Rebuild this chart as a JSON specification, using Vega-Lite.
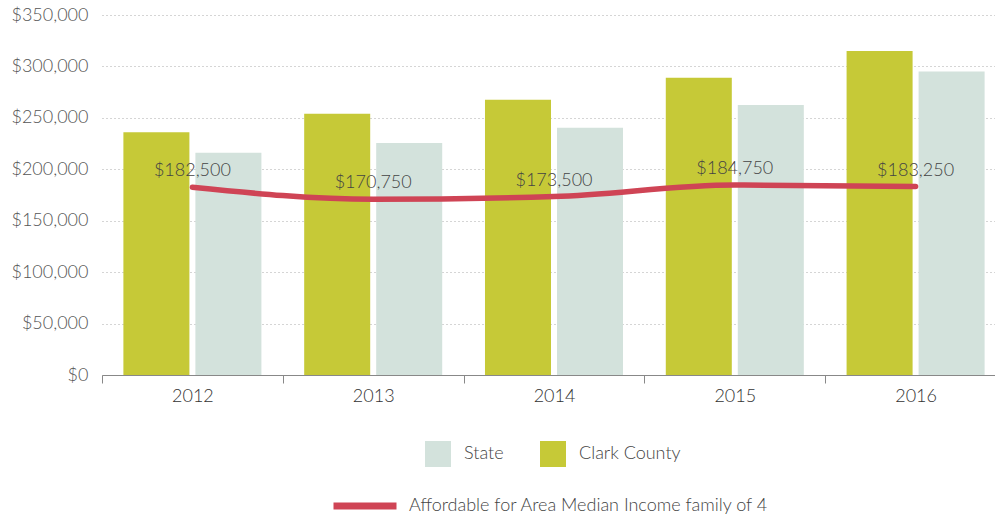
{
  "$schema": "https://vega.github.io/schema/vega-lite/v6.json",
  "autosize": "none",
  "width": 904,
  "height": 360,
  "padding": {"left": 102, "top": 15, "right": 0, "bottom": 141},
  "background": "white",
  "config": {
    "view": {"stroke": null},
    "font": "Lato",
    "axis": {"labelFont": "Lato", "labelFontSize": 18, "labelFontWeight": 300, "labelColor": "#555", "titleFont": "Lato"},
    "legend": {"labelFont": "Lato", "labelFontSize": 18, "labelFontWeight": 300, "labelColor": "#444", "labelLimit": 600}
  },
  "datasets": {
    "bars": [
      {"year": "2012", "region": "Clark County", "value": 236000},
      {"year": "2012", "region": "State", "value": 216000},
      {"year": "2013", "region": "Clark County", "value": 254000},
      {"year": "2013", "region": "State", "value": 225500},
      {"year": "2014", "region": "Clark County", "value": 267500},
      {"year": "2014", "region": "State", "value": 240500},
      {"year": "2015", "region": "Clark County", "value": 289000},
      {"year": "2015", "region": "State", "value": 262500},
      {"year": "2016", "region": "Clark County", "value": 315000},
      {"year": "2016", "region": "State", "value": 295000}
    ],
    "line": [
      {"year": "2012", "series": "Affordable for Area Median Income family of 4", "value": 182500},
      {"year": "2013", "series": "Affordable for Area Median Income family of 4", "value": 170750},
      {"year": "2014", "series": "Affordable for Area Median Income family of 4", "value": 173500},
      {"year": "2015", "series": "Affordable for Area Median Income family of 4", "value": 184750},
      {"year": "2016", "series": "Affordable for Area Median Income family of 4", "value": 183250}
    ]
  },
  "layer": [
    {
      "data": {"name": "bars"},
      "mark": {"type": "bar"},
      "encoding": {
        "x": {
          "field": "year", "type": "nominal",
          "scale": {"paddingInner": 0, "paddingOuter": 0},
          "axis": {
            "title": null, "labelAngle": 0, "labelColor": "#333", "labelPadding": 4,
            "domainColor": "#888", "domainWidth": 1, "tickColor": "#888", "tickSize": 8,
            "tickBand": "extent", "grid": false
          }
        },
        "xOffset": {"field": "region", "type": "nominal", "sort": ["Clark County", "State"], "scale": {"paddingInner": 0.0833, "paddingOuter": 0.297}},
        "y": {
          "field": "value", "type": "quantitative",
          "scale": {"domain": [0, 350000], "nice": false},
          "axis": {
            "title": null, "format": "$,.0f", "values": [0, 50000, 100000, 150000, 200000, 250000, 300000, 350000],
            "domain": false, "ticks": false, "labelPadding": 14,
            "gridColor": "#aaa", "gridDash": [1, 3], "gridWidth": 1
          }
        },
        "color": {
          "field": "region", "type": "nominal",
          "scale": {"domain": ["State", "Clark County"], "range": ["#d3e2dc", "#c6c937"]},
          "legend": {
            "title": null, "orient": "none", "direction": "horizontal", "legendX": 323, "legendY": 426,
            "symbolType": "square", "symbolSize": 676, "symbolStrokeWidth": 0, "symbolOpacity": 1,
            "labelOffset": 13, "columnPadding": 36
          }
        }
      }
    },
    {
      "data": {"name": "line"},
      "mark": {"type": "line", "interpolate": "monotone", "strokeWidth": 5.5, "strokeCap": "round"},
      "encoding": {
        "x": {"field": "year", "type": "nominal"},
        "y": {"field": "value", "type": "quantitative"},
        "stroke": {
          "field": "series", "type": "nominal",
          "scale": {"range": ["#cf4455"]},
          "legend": {
            "title": null, "orient": "none", "legendX": 228, "legendY": 456,
            "symbolType": "stroke", "symbolSize": 3969, "symbolStrokeWidth": 7, "labelOffset": 9
          }
        }
      }
    },
    {
      "data": {"name": "line"},
      "mark": {"type": "text", "dy": -16, "fontSize": 18, "fontWeight": 300, "color": "#444", "font": "Lato"},
      "encoding": {
        "x": {"field": "year", "type": "nominal"},
        "y": {"field": "value", "type": "quantitative"},
        "text": {"field": "value", "type": "quantitative", "format": "$,.0f"}
      }
    }
  ]
}
